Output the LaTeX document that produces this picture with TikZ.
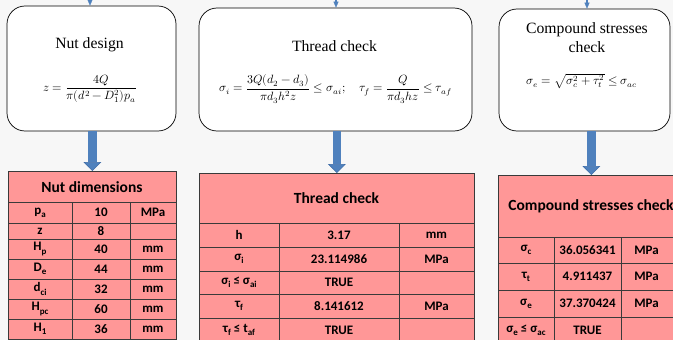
\documentclass[tikz,border=0pt]{standalone}
\usepackage{amsmath}
\usepackage{fontspec}
\usepackage{unicode-math}
\setmainfont{Liberation Serif}
\setmathfont{Latin Modern Math}
\newfontfamily\tabfont{Carlito}
\usetikzlibrary{arrows.meta}
\definecolor{bgc}{HTML}{F7F7F7}
\definecolor{pinkfill}{HTML}{FF9797}
\definecolor{arrowblue}{HTML}{4F81BD}
\definecolor{arrowedge}{HTML}{3B6AA6}
\definecolor{gridc}{HTML}{3A3A3A}
\newcommand{\sbs}[1]{\raisebox{-0.5ex}{\fontsize{9}{10}\selectfont #1}}
\begin{document}
\begin{tikzpicture}[x=1pt,y=-1pt,
  designbox/.style={draw=black,line width=0.7pt,fill=white,rounded corners=18pt,inner sep=0pt},
  boxtitle/.style={font=\fontsize{15.7}{19}\selectfont,inner sep=0pt,align=center},
  boxeq/.style={font=\fontsize{12}{14}\selectfont,inner sep=0pt},
  tablebg/.style={fill=pinkfill,draw=gridc,line width=0.7pt,inner sep=0pt,anchor=north west},
  gridl/.style={draw=gridc,line width=0.7pt},
  cell/.style={font=\tabfont\bfseries\fontsize{13}{15}\selectfont,inner sep=0pt},
  thead/.style={font=\tabfont\bfseries\fontsize{15.5}{18}\selectfont,inner sep=0pt},
  bigarrow/.style={draw=arrowblue,line width=8.5pt,-{Triangle[width=18pt,length=9pt,line width=0.6pt,fill=arrowblue,color=arrowedge]}},
  smallarrow/.style={draw=arrowblue,line width=2pt,-{Triangle[width=5pt,length=6pt,line width=0.3pt]}}]
\useasboundingbox (0,0) rectangle (673,340);
\clip (0,0) rectangle (673,340);
\fill[bgc] (0,0) rectangle (673,340);

% incoming connector ends
\coordinate (in1) at (90,-20);
\coordinate (in2) at (336,-20);
\coordinate (in3) at (587,-20);

% design boxes
\node[designbox,minimum width=169pt,minimum height=125pt] (b1) at (91.5,68.5) {};
\node[designbox,minimum width=273pt,minimum height=123pt] (b2) at (335.5,69.5) {};
\node[designbox,minimum width=171pt,minimum height=122pt] (b3) at (584.5,70) {};

\draw[smallarrow] (in1) -- (in1 |- b1.north);
\draw[smallarrow] (in2) -- (in2 |- b2.north);
\draw[smallarrow] (in3) -- (in3 |- b3.north);

\node[boxtitle] (b1t) at (89.5,45) {Nut design};
\node[boxeq] (b1e) at (90.5,89) {$z=\dfrac{4Q}{\pi(d^2-D_1^2)p_a}$};
\node[boxtitle] (b2t) at (334.5,46) {Thread check};
\node[boxeq] (b2e) at (335.5,89) {$\sigma_i=\dfrac{3Q(d_2-d_3)}{\pi d_3h^2z}\le\sigma_{ai};\quad\tau_f=\dfrac{Q}{\pi d_3hz}\le\tau_{af}$};
\node[boxtitle] (b3t) at (587,38) {Compound stresses\\check};
\node[boxeq] (b3e) at (582,81) {$\sigma_e=\sqrt{\sigma_c^2+\tau_t^2}\le\sigma_{ac}$};

% tables backgrounds
\node[tablebg,minimum width=168pt,minimum height=168pt] (t1) at (8,171) {};
\node[tablebg,minimum width=275pt,minimum height=171pt] (t2) at (199,173) {};
\node[tablebg,minimum width=186pt,minimum height=171pt] (t3) at (498,175) {};

% big arrows
\draw[bigarrow] (b1.south -| t1.north) -- (t1.north);
\draw[bigarrow] (b2.south -| t2.north) -- (t2.north);
\draw[bigarrow] (b3.south -| t3.north) -- (t3.north);

% table 1 grid
\foreach \yy in {202,223,239,259,279,299,319} \draw[gridl] (8,\yy) -- (176,\yy);
\draw[gridl] (72,202) -- (72,339);
\draw[gridl] (130,202) -- (130,339);
\node[thead] (t1h) at (92,187) {Nut dimensions};
\node[cell] (t1a1) at (40,212.5) {p\sbs{a}};
\node[cell] (t1a2) at (101,212.5) {10};
\node[cell] (t1a3) at (153,212.5) {MPa};
\node[cell] (t1b1) at (40,231) {z};
\node[cell] (t1b2) at (101,231) {8};
\node[cell] (t1c1) at (40,249) {H\sbs{p}};
\node[cell] (t1c2) at (101,249) {40};
\node[cell] (t1c3) at (153,249) {mm};
\node[cell] (t1d1) at (40,269) {D\sbs{e}};
\node[cell] (t1d2) at (101,269) {44};
\node[cell] (t1d3) at (153,269) {mm};
\node[cell] (t1e1) at (40,289) {d\sbs{ci}};
\node[cell] (t1e2) at (101,289) {32};
\node[cell] (t1e3) at (153,289) {mm};
\node[cell] (t1f1) at (40,309) {H\sbs{pc}};
\node[cell] (t1f2) at (101,309) {60};
\node[cell] (t1f3) at (153,309) {mm};
\node[cell] (t1g1) at (40,329) {H\sbs{1}};
\node[cell] (t1g2) at (101,329) {36};
\node[cell] (t1g3) at (153,329) {mm};

% table 2 grid
\foreach \yy in {223,247,271,294,318} \draw[gridl] (199,\yy) -- (474,\yy);
\draw[gridl] (279,223) -- (279,344);
\draw[gridl] (399,223) -- (399,344);
\node[thead] (t2h) at (336.5,198) {Thread check};
\node[cell] (t2a1) at (239,235) {h};
\node[cell] (t2a2) at (339,235) {3.17};
\node[cell] (t2a3) at (436.5,235) {mm};
\node[cell] (t2b1) at (239,259) {σ\sbs{i}};
\node[cell] (t2b2) at (339,259) {23.114986};
\node[cell] (t2b3) at (436.5,259) {MPa};
\node[cell] (t2c1) at (239,282.5) {σ\sbs{i} ≤ σ\sbs{ai}};
\node[cell] (t2c2) at (339,282.5) {TRUE};
\node[cell] (t2d1) at (239,306) {τ\sbs{f}};
\node[cell] (t2d2) at (339,306) {8.141612};
\node[cell] (t2d3) at (436.5,306) {MPa};
\node[cell] (t2e1) at (239,330) {τ\sbs{f} ≤ t\sbs{af}};
\node[cell] (t2e2) at (339,330) {TRUE};

% table 3 grid
\foreach \yy in {237,263,290,317} \draw[gridl] (498,\yy) -- (684,\yy);
\draw[gridl] (554,237) -- (554,346);
\draw[gridl] (621,237) -- (621,346);
\node[thead] (t3h) at (591,206) {Compound stresses check};
\node[cell] (t3a1) at (526,250) {σ\sbs{c}};
\node[cell] (t3a2) at (587.5,250) {36.056341};
\node[cell] (t3a3) at (646.5,250) {MPa};
\node[cell] (t3b1) at (526,276.5) {τ\sbs{t}};
\node[cell] (t3b2) at (587.5,276.5) {4.911437};
\node[cell] (t3b3) at (646.5,276.5) {MPa};
\node[cell] (t3c1) at (526,303.5) {σ\sbs{e}};
\node[cell] (t3c2) at (587.5,303.5) {37.370424};
\node[cell] (t3c3) at (646.5,303.5) {MPa};
\node[cell] (t3d1) at (526,330.5) {σ\sbs{e} ≤ σ\sbs{ac}};
\node[cell] (t3d2) at (587.5,330.5) {TRUE};
\end{tikzpicture}
\end{document}
